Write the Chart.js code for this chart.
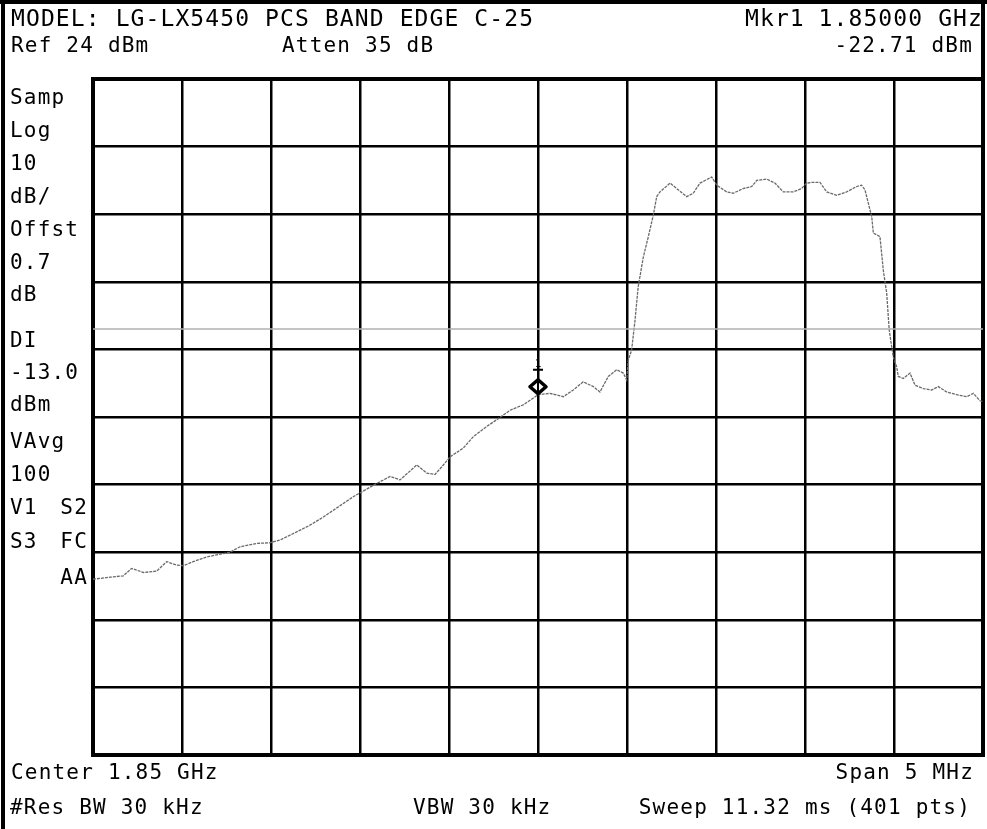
<!DOCTYPE html>
<html>
<head>
<meta charset="utf-8">
<script src="https://cdn.jsdelivr.net/npm/chart.js@4.4.1/dist/chart.umd.min.js"></script>
<style>
body{
    margin:0;
    background:#fff;
}
#wrap{
    position:relative;
    width:987px;
    height:829px;
    overflow:hidden;
}
#plot{
    position:absolute;
    left:0;
    top:0;
}
.frameLeft{
    position:absolute;
    left:1px;
    top:0;
    width:4px;
    height:829px;
    background:#000;
}
.frameTop{
    position:absolute;
    left:0;
    top:0;
    width:987px;
    height:4px;
    background:#000;
}
.frameRight{
    position:absolute;
    left:981px;
    top:0;
    width:4px;
    height:80px;
    background:#000;
}
.lbl{
    position:absolute;
    font-family:"DejaVu Sans Mono", monospace;
    font-size:21px;
    letter-spacing:1.2px;
    line-height:1;
    color:#000;
    white-space:pre;
    transform:translateY(-50%);
}
.big{
    font-size:23px;
    letter-spacing:1.1px;
}
</style>
</head>
<body>
<div id="wrap">
<canvas id="plot" width="987" height="829"></canvas>
<div class="frameLeft"></div>
<div class="frameTop"></div>
<div class="frameRight"></div>
</div>

<script>

// analyzer settings
let refLevel = 24;
let dbPerDiv = 10;
let centerMHz = 1850.0;
let spanMHz = 5;
let displayLine = -13.0;

// marker 1
let markerFreq = 1850.0;
let markerLevel = -22.71;

// trace, frequency in MHz
let freqMHz = [
1847.500,1847.596,1847.670,1847.717,1847.783,1847.858,1847.914,1847.970,
1848.007,1848.063,1848.139,1848.195,1848.270,1848.326,1848.420,1848.494,
1848.551,1848.644,1848.719,1848.794,1848.962,1849.075,1849.169,1849.225,
1849.319,1849.375,1849.421,1849.468,1849.506,1849.580,1849.637,1849.712,
1849.768,1849.843,1849.917,1849.974,1850.000,1850.067,1850.142,1850.198,
1850.254,1850.311,1850.348,1850.395,1850.442,1850.479,1850.498,1850.507,
1850.526,1850.545,1850.563,1850.592,1850.620,1850.648,1850.667,1850.685,
1850.742,1850.779,1850.835,1850.872,1850.910,1850.976,1851.004,1851.060,
1851.097,1851.153,1851.201,1851.229,1851.285,1851.331,1851.378,1851.434,
1851.481,1851.509,1851.538,1851.584,1851.622,1851.678,1851.734,1851.791,
1851.818,1851.837,1851.856,1851.875,1851.884,1851.921,1851.940,1851.959,
1851.973,1851.987,1851.996,1852.015,1852.024,1852.052,1852.090,1852.118,
1852.165,1852.212,1852.249,1852.296,1852.352,1852.408,1852.446,1852.483,
1852.500
];

// trace, level in dBm
let levelDbm = [
-50.0,-49.7,-49.5,-48.4,-49.0,-48.8,-47.4,-47.9,
-48.0,-47.4,-46.7,-46.4,-46.0,-45.2,-44.7,-44.6,
-44.2,-43.0,-42.0,-40.8,-37.8,-36.1,-34.8,-35.3,
-33.1,-34.3,-34.5,-33.1,-31.9,-30.6,-28.9,-27.4,
-26.4,-25.0,-24.2,-23.2,-22.71,-22.5,-23.0,-22.0,
-20.8,-21.5,-22.3,-20.0,-19.0,-19.5,-20.5,-17.6,
-16.1,-11.7,-6.7,-2.3,0.7,3.9,6.6,7.3,
8.6,7.8,6.6,7.1,8.6,9.5,8.3,7.3,
7.1,7.8,8.1,9.0,9.2,8.6,7.3,7.3,
7.8,8.6,8.7,8.7,7.3,6.8,7.3,8.1,
8.3,7.6,5.6,3.6,1.2,0.7,-4.3,-7.7,
-13.1,-15.6,-17.1,-18.6,-20.0,-20.3,-19.5,-21.3,
-21.8,-22.0,-21.5,-22.3,-22.7,-23.0,-22.5,-23.6,
-23.7
];

// text around the graticule
let labels = [
    {t:"MODEL: LG-LX5450 PCS BAND EDGE C-25", x:11, y:18, big:true},
    {t:"Mkr1", x:745, y:18, big:true},
    {t:"1.85000 GHz", x:983, y:18, right:true, big:true},
    {t:"Ref 24 dBm", x:11, y:45},
    {t:"Atten 35 dB", x:282, y:45},
    {t:"-22.71 dBm", x:973, y:45, right:true},
    {t:"Samp", x:10, y:97},
    {t:"Log", x:10, y:130},
    {t:"10", x:10, y:163},
    {t:"dB/", x:10, y:196},
    {t:"Offst", x:10, y:229},
    {t:"0.7", x:10, y:262},
    {t:"dB", x:10, y:294},
    {t:"DI", x:10, y:340},
    {t:"-13.0", x:10, y:372},
    {t:"dBm", x:10, y:404},
    {t:"VAvg", x:10, y:441},
    {t:"100", x:10, y:474},
    {t:"V1", x:10, y:507},
    {t:"S2", x:88, y:507, right:true},
    {t:"S3", x:10, y:541},
    {t:"FC", x:88, y:541, right:true},
    {t:"AA", x:88, y:577, right:true},
    {t:"Center 1.85 GHz", x:11, y:772},
    {t:"Span 5 MHz", x:974, y:772, right:true},
    {t:"#Res BW 30 kHz", x:10, y:807},
    {t:"VBW 30 kHz", x:413, y:807},
    {t:"Sweep 11.32 ms (401 pts)", x:971, y:807, right:true}
];

function addLabels(){

    let wrap = document.getElementById("wrap");

    labels.forEach(l => {

        let d = document.createElement("div");

        d.className = l.big ? "lbl big" : "lbl";

        d.textContent = l.t;

        if(l.right){
            d.style.right = (987 - l.x) + "px";
        }else{
            d.style.left = l.x + "px";
        }

        d.style.top = l.y + "px";

        wrap.appendChild(d);
    });

}

let tracePoints = freqMHz.map((f, i) => ({x:f, y:levelDbm[i]}));

let xMin = centerMHz - spanMHz / 2;
let xMax = centerMHz + spanMHz / 2;
let yMax = refLevel;
let yMin = refLevel - dbPerDiv * 10;

function divisionTicks(min, max){

    let ticks = [];

    for(let i = 0; i <= 10; i++){
        ticks.push({value: min + (max - min) * i / 10});
    }

    return ticks;
}

function gridWidth(ctx){

    if(ctx.index === 0 || ctx.index === 10){
        return 4;
    }

    return 2.5;
}

// diamond marker with its number
let markerPlugin = {

    id:"marker",

    afterDatasetsDraw(chart){

        let ctx = chart.ctx;

        let cx = chart.scales.x.getPixelForValue(markerFreq);
        let cy = chart.scales.y.getPixelForValue(markerLevel) - 8;

        ctx.save();

        ctx.strokeStyle = "#000";
        ctx.fillStyle = "#fff";
        ctx.lineWidth = 3.5;
        ctx.lineJoin = "round";

        ctx.beginPath();
        ctx.moveTo(cx, cy - 7);
        ctx.lineTo(cx + 8, cy);
        ctx.lineTo(cx, cy + 7);
        ctx.lineTo(cx - 8, cy);
        ctx.closePath();
        ctx.fill();
        ctx.stroke();

        ctx.lineWidth = 2;

        ctx.beginPath();
        ctx.moveTo(cx, cy - 22);
        ctx.lineTo(cx, cy + 8);
        ctx.moveTo(cx - 5, cy - 17);
        ctx.lineTo(cx + 5, cy - 17);
        ctx.stroke();

        ctx.fillStyle = "#000";
        ctx.font = "11px 'DejaVu Sans Mono'";
        ctx.textAlign = "center";
        ctx.textBaseline = "bottom";
        ctx.fillText("1", cx, cy - 17);

        ctx.restore();
    }

};

new Chart(

document.getElementById("plot"),

{

    type:"line",

    data:{

        datasets:[

        {
            label:"Display line",
            data:[
                {x:xMin, y:displayLine},
                {x:xMax, y:displayLine}
            ],
            borderColor:"#b0b0b0",
            borderWidth:1.5,
            pointRadius:0
        },

        {
            label:"Trace",
            data:tracePoints,
            borderColor:"#6a6a6a",
            borderWidth:1.3,
            borderDash:[3, 1],
            pointRadius:0,
            tension:0
        }

        ]

    },

    options:{

        responsive:false,

        animation:false,

        layout:{
            padding:{
                left:93,
                right:4,
                top:79,
                bottom:74
            }
        },

        plugins:{
            legend:{display:false},
            tooltip:{enabled:false}
        },

        scales:{

            x:{
                type:"linear",
                min:xMin,
                max:xMax,
                afterBuildTicks:(scale) => {
                    scale.ticks = divisionTicks(xMin, xMax);
                },
                ticks:{display:false},
                grid:{
                    color:"#000",
                    lineWidth:gridWidth,
                    drawTicks:false
                },
                border:{
                    display:true,
                    color:"#000",
                    width:4
                }
            },

            y:{
                type:"linear",
                min:yMin,
                max:yMax,
                afterBuildTicks:(scale) => {
                    scale.ticks = divisionTicks(yMin, yMax);
                },
                ticks:{display:false},
                grid:{
                    color:"#000",
                    lineWidth:gridWidth,
                    drawTicks:false
                },
                border:{
                    display:true,
                    color:"#000",
                    width:4
                }
            }

        }

    },

    plugins:[markerPlugin]

});

addLabels();

</script>
</body>
</html>
